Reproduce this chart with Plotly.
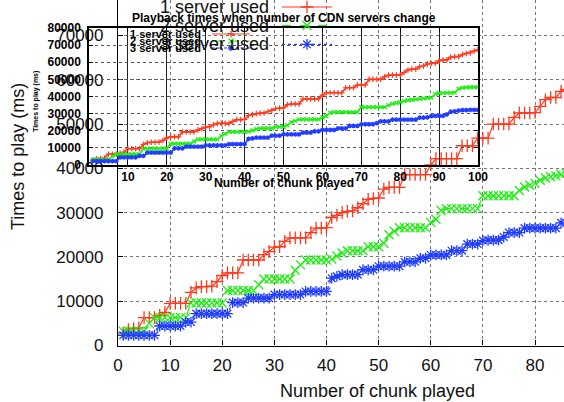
import plotly.graph_objects as go

# ---------------- data ----------------
chunks = list(range(1, 101))

one_server = [
    2800, 3600, 3800, 4000, 6300, 6300, 6300, 6800, 7500, 9500,
    9500, 9500, 9500, 12000, 13000, 13300, 13300, 13400, 14400, 15800,
    16400, 16400, 16400, 19300, 19300, 19300, 19300, 20500, 21200, 22200,
    22300, 23500, 24300, 24300, 24300, 24300, 25500, 26500, 26500, 26600,
    28900, 29400, 30000, 30300, 30400, 31100, 32000, 33000, 33200, 33300,
    35300, 35700, 35700, 35700, 38600, 38600, 38600, 38600, 38600, 40800,
    42200, 42200, 42200, 42200, 42200, 45100, 45100, 45100, 46800, 46800,
    46800, 50000, 50000, 50000, 50000, 51500, 52500, 52500, 52500, 52600,
    54000, 55500, 56000, 56000, 57400, 57800, 59000, 59400, 59400, 60800,
    61400, 61400, 63000, 63300, 63300, 64500, 65200, 65500, 66500, 67300,
]
two_servers = [
    3250, 3250, 3250, 3250, 3250, 5000, 6300, 6300, 6300, 6300,
    6300, 6300, 6300, 9600, 9600, 9600, 9600, 9600, 9600, 9600,
    12400, 12400, 12400, 12400, 12400, 12400, 13700, 15000, 15000, 15000,
    15000, 15000, 15000, 17000, 18200, 19300, 19300, 19300, 19300, 19300,
    19500, 20200, 20900, 21400, 21400, 21400, 21400, 22300, 22300, 22300,
    23100, 25000, 25800, 26600, 26600, 26600, 26600, 26600, 26600, 27800,
    28500, 30500, 30900, 30900, 30900, 30900, 30900, 30900, 30900, 33800,
    33800, 33800, 33800, 33800, 33800, 33800, 35000, 35800, 36200, 36600,
    37300, 37800, 38100, 38300, 38600, 38900, 39100, 39300, 41500, 42000,
    42000, 42100, 42100, 42300, 44500, 45000, 45300, 45400, 45400, 45500,
]
three_servers = [
    2300, 2300, 2300, 2300, 2300, 2300, 2300, 4400, 4400, 4400,
    4400, 4400, 5300, 5300, 7200, 7200, 7200, 7200, 7200, 7200,
    7200, 9700, 9700, 9700, 10700, 10700, 10700, 10700, 10700, 11500,
    11500, 11500, 11500, 11500, 11500, 12200, 12200, 12200, 12200, 12200,
    15200, 15600, 16000, 16000, 16000, 16000, 17100, 17100, 17100, 17900,
    17900, 17900, 17900, 17900, 18900, 18900, 18900, 19700, 19700, 20450,
    20450, 20450, 20450, 21400, 21400, 21400, 22900, 22900, 22900, 23700,
    23800, 23800, 23800, 24500, 25500, 25500, 25500, 26500, 26500, 26500,
    26500, 26500, 26500, 26500, 27700, 27700, 27800, 28600, 28700, 28700,
    28700, 29500, 31200, 31300, 31800, 32100, 32100, 32200, 32200, 32200,
]
series_names = ["1 server used", "2 server used", "3 server used"]
series_values = [one_server, two_servers, three_servers]

main_x_ticks = [0, 10, 20, 30, 40, 50, 60, 70, 80]
main_y_ticks = [0, 10000, 20000, 30000, 40000, 50000, 60000, 70000]
inset_x_ticks = [10, 20, 30, 40, 50, 60, 70, 80, 90, 100]
inset_y_ticks = [0, 10000, 20000, 30000, 40000, 50000, 60000, 70000, 80000]

inset_title = "Playback times when number of CDN servers change"
x_title = "Number of chunk played"
y_title = "Times to play (ms)"

# ---------------- layout geometry (pixels) ----------------
W, H = 564, 402
def fx(p):
    return p / W
def fy(p):
    return 1 - p / H

MAIN_L, MAIN_B = 118, 345.5
MAIN_XSCALE = 5.2125          # px per chunk
MAIN_YSCALE = 44.29 / 10000   # px per ms
main_xmax = (W - MAIN_L) / MAIN_XSCALE
main_ymax = MAIN_B / MAIN_YSCALE

IN_L, IN_R, IN_T, IN_B = 89, 478, 28, 165

colors = ["#ff3a1f", "#1fee12", "#1f3cff"]
dashes = ["solid", "dash", "dot"]
symbols = ["cross-thin-open", "x-thin-open", "asterisk-open"]

FONT = "Liberation Sans, Arial, sans-serif"

fig = go.Figure()

# main chart
for name, vals, c, d, s in zip(series_names, series_values, colors, dashes, symbols):
    fig.add_trace(go.Scatter(
        x=chunks, y=vals, name=name, mode="lines+markers",
        line=dict(color=c, width=1.2, dash=d),
        marker=dict(symbol=s, size=9, color=c, line=dict(color=c, width=1.3)),
        xaxis="x", yaxis="y", showlegend=False,
    ))

# inset chart
for name, vals, c, d, s in zip(series_names, series_values, colors, dashes, symbols):
    fig.add_trace(go.Scatter(
        x=chunks, y=vals, name=name, mode="lines+markers",
        line=dict(color=c, width=1.6),
        marker=dict(symbol=s, size=4, color=c, line=dict(color=c, width=1.2)),
        xaxis="x2", yaxis="y2", showlegend=False,
    ))

# legend keys (decoration, drawn on a full-figure helper axis in pixel units)
def legend_key(x0, x1, y, c, d, s, msize, lw):
    fig.add_trace(go.Scatter(
        x=[x0, x1], y=[y, y], mode="lines",
        line=dict(color=c, width=lw, dash=d),
        xaxis="x3", yaxis="y3", showlegend=False, hoverinfo="skip",
    ))
    fig.add_trace(go.Scatter(
        x=[(x0 + x1) / 2], y=[y], mode="markers",
        marker=dict(symbol=s, size=msize, color=c, line=dict(color=c, width=1.3)),
        xaxis="x3", yaxis="y3", showlegend=False, hoverinfo="skip",
    ))

main_leg_rows = [7, 25.5, 44.3]
inset_leg_rows = [34, 41, 48]
for i, (c, d, s) in enumerate(zip(colors, dashes, symbols)):
    legend_key(282, 332, main_leg_rows[i], c, d, s, 9, 1.2)
    legend_key(212, 250, inset_leg_rows[i], c, d, s, 5, 1.2)

annotations = []
for i, name in enumerate(series_names):
    annotations.append(dict(
        text=name, x=fx(271), y=fy(main_leg_rows[i]), xref="paper", yref="paper",
        xanchor="right", yanchor="middle", showarrow=False,
        font=dict(family=FONT, size=18, color="#111"),
    ))
    annotations.append(dict(
        text="<b>" + name + "</b>", x=fx(203), y=fy(inset_leg_rows[i]), xref="paper", yref="paper",
        xanchor="right", yanchor="middle", showarrow=False,
        font=dict(family=FONT, size=11, color="#000"),
    ))

annotations += [
    dict(text="<b>" + inset_title + "</b>", x=fx(283.5), y=fy(18), xref="paper", yref="paper",
         xanchor="center", yanchor="middle", showarrow=False,
         font=dict(family=FONT, size=12, color="#000")),
    dict(text="<b>" + x_title + "</b>", x=fx(283.5), y=fy(183), xref="paper", yref="paper",
         xanchor="center", yanchor="middle", showarrow=False,
         font=dict(family=FONT, size=12, color="#000")),
    dict(text="<b>" + y_title + "</b>", x=fx(36), y=fy(102), xref="paper", yref="paper",
         xanchor="center", yanchor="middle", textangle=-90, showarrow=False,
         font=dict(family=FONT, size=7, color="#000")),
    dict(text=x_title, x=fx(377), y=fy(391), xref="paper", yref="paper",
         xanchor="center", yanchor="middle", showarrow=False,
         font=dict(family=FONT, size=18, color="#111")),
    dict(text=y_title, x=fx(18), y=fy(157), xref="paper", yref="paper",
         xanchor="center", yanchor="middle", textangle=-90, showarrow=False,
         font=dict(family=FONT, size=18, color="#111")),
]

fig.update_layout(
    width=W, height=H,
    margin=dict(l=0, r=0, t=0, b=0),
    paper_bgcolor="white", plot_bgcolor="rgba(0,0,0,0)",
    showlegend=False,
    annotations=annotations,
    xaxis=dict(
        domain=[fx(MAIN_L), 1], range=[0, main_xmax], automargin=False,
        tickvals=main_x_ticks, tickformat="d", ticks="inside", ticklen=5, tickcolor="#000",
        showline=True, linecolor="#000", linewidth=1.2, zeroline=False,
        showgrid=True, gridcolor="#777", griddash="dot", gridwidth=1,
        tickfont=dict(family=FONT, size=17, color="#111"), ticklabelstandoff=4,
    ),
    yaxis=dict(
        domain=[fy(MAIN_B), 1], range=[0, main_ymax], automargin=False,
        tickvals=main_y_ticks, tickformat="d", ticks="inside", ticklen=5, tickcolor="#000",
        showline=True, linecolor="#000", linewidth=1.2, zeroline=False,
        showgrid=True, gridcolor="#777", griddash="dot", gridwidth=1,
        tickfont=dict(family=FONT, size=17, color="#111"), ticklabelstandoff=10,
    ),
    xaxis2=dict(
        domain=[fx(IN_L), fx(IN_R)], range=[0, 100], anchor="y2", automargin=False,
        tickvals=inset_x_ticks, tickformat="d", ticks="inside", ticklen=4, tickcolor="#000",
        showline=True, linecolor="#000", linewidth=1.5, mirror="ticks", zeroline=False,
        showgrid=True, gridcolor="#222", gridwidth=1,
        tickfont=dict(family=FONT, size=12, color="#000", weight="bold"), ticklabelstandoff=0,
    ),
    yaxis2=dict(
        domain=[fy(IN_B), fy(IN_T)], range=[0, 80000], anchor="x2", automargin=False,
        tickvals=inset_y_ticks, tickformat="d", ticks="inside", ticklen=4, tickcolor="#000",
        showline=True, linecolor="#000", linewidth=1.5, mirror="ticks", zeroline=False,
        showgrid=True, gridcolor="#555", griddash="dot", gridwidth=1,
        tickfont=dict(family=FONT, size=12, color="#000", weight="bold"), ticklabelstandoff=4,
    ),
    xaxis3=dict(domain=[0, 1], range=[0, W], visible=False, anchor="y3", fixedrange=True),
    yaxis3=dict(domain=[0, 1], range=[H, 0], visible=False, anchor="x3", fixedrange=True),
)

fig.write_html(
    "out.html",
    config={"displayModeBar": False},
    post_script="document.body.style.margin='0';document.body.style.overflow='hidden';",
)
